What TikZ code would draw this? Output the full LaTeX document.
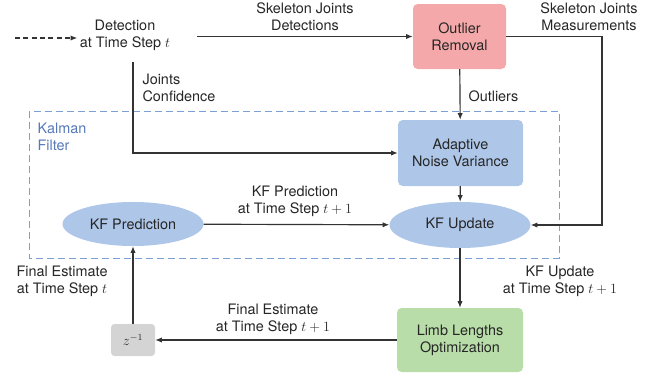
\documentclass[tikz,border=0pt]{standalone}
\usepackage{fontspec}
\setmainfont{TeX Gyre Heros}
\usetikzlibrary{positioning, arrows.meta, shapes.geometric, calc}

\definecolor{outpink}{RGB}{244,168,169}
\definecolor{kfblue}{RGB}{174,198,232}
\definecolor{limbgreen}{RGB}{184,221,168}
\definecolor{delaygray}{RGB}{212,212,212}
\definecolor{kfline}{RGB}{125,160,212}
\definecolor{kftext}{RGB}{85,120,185}

\begin{document}
\begin{tikzpicture}[
    x=0.3mm, y=-0.3mm,
    font=\fontsize{12.3}{14.6}\selectfont,
    text=black!85,
    box/.style={
        rectangle, draw=none, rounded corners=4pt,
        align=center, inner sep=2pt
    },
    oval/.style={
        ellipse, fill=kfblue, align=center,
        minimum width=42.3mm, minimum height=13.8mm
    },
    lbl/.style={align=center, inner sep=2pt},
    arr/.style={-{Latex[length=2mm,width=1.6mm]}, line width=1pt, draw=black!80}
]
\useasboundingbox (0,0) rectangle (660,378);

% ---------------- Kalman filter frame ----------------
\coordinate (kfnw) at (29,111);
\coordinate (kfse) at (559,258);
\draw[kfline, line width=0.8pt, dash pattern=on 2mm off 1.3mm] (kfnw) rectangle (kfse);
\node[lbl, align=left, anchor=west, text=kftext] (kfname) at (35,137) {Kalman\\Filter};

% ---------------- Blocks ----------------
\node[lbl] (det) at (125,35) {Detection\\at Time Step $t$};
\node[box, fill=outpink, minimum width=27.9mm, minimum height=19.5mm] (outlier) at (459.5,36.5) {Outlier\\Removal};
\node[box, fill=kfblue, minimum width=37.5mm, minimum height=19.8mm] (anv) at (460.5,153) {Adaptive\\Noise Variance};
\node[oval] (kfu) at (460,225) {KF Update};
\node[oval, minimum height=13.2mm] (kfp) at (133,224) {KF Prediction};
\node[box, fill=limbgreen, minimum width=37.8mm, minimum height=19.2mm] (limb) at (460,340) {Limb Lengths\\Optimization};
\node[box, fill=delaygray, minimum width=13.2mm, minimum height=9.6mm, rounded corners=3pt, font=\large] (zinv) at (133,340) {$z^{-1}$};

% ---------------- Labels ----------------
\node[lbl] (skdet) at (305,17) {Skeleton Joints\\Detections};
\node[lbl] (skmeas) at (589,17) {Skeleton Joints\\Measurements};
\node[lbl, anchor=west] (outl) at (466,96) {Outliers};
\node[lbl, align=left, anchor=west] (jconf) at (140,88) {Joints\\Confidence};
\node[lbl] (predlbl) at (295,201) {KF Prediction\\at Time Step $t+1$};
\node[lbl] (updlbl) at (560,281) {KF Update\\at Time Step $t+1$};
\node[lbl] (finlbl) at (273,319) {Final Estimate\\at Time Step $t+1$};
\node[lbl] (prevlbl) at (62,281) {Final Estimate\\at Time Step $t$};

% ---------------- Arrows ----------------
\coordinate (src) at (15,38);
\coordinate (detout) at (197,36.5);
\coordinate (confstart) at (133,62);
\coordinate (measx) at (602,0);

\draw[arr, dash pattern=on 1.5mm off 1mm] (src) -- (src -| det.west);
\draw[arr] (detout) -- (outlier.west |- detout);
\draw[arr] (outlier.east) -- (outlier.east -| measx) |- (kfu.east);
\draw[arr] (outlier) -- (anv);
\draw[arr] (confstart) |- (anv.west);
\draw[arr] (anv) -- (kfu);
\draw[arr] (kfp) -- (kfu);
\draw[arr] (kfu) -- (limb);
\draw[arr] (limb) -- (zinv);
\draw[arr] (zinv) -- (kfp);

\end{tikzpicture}
\end{document}
